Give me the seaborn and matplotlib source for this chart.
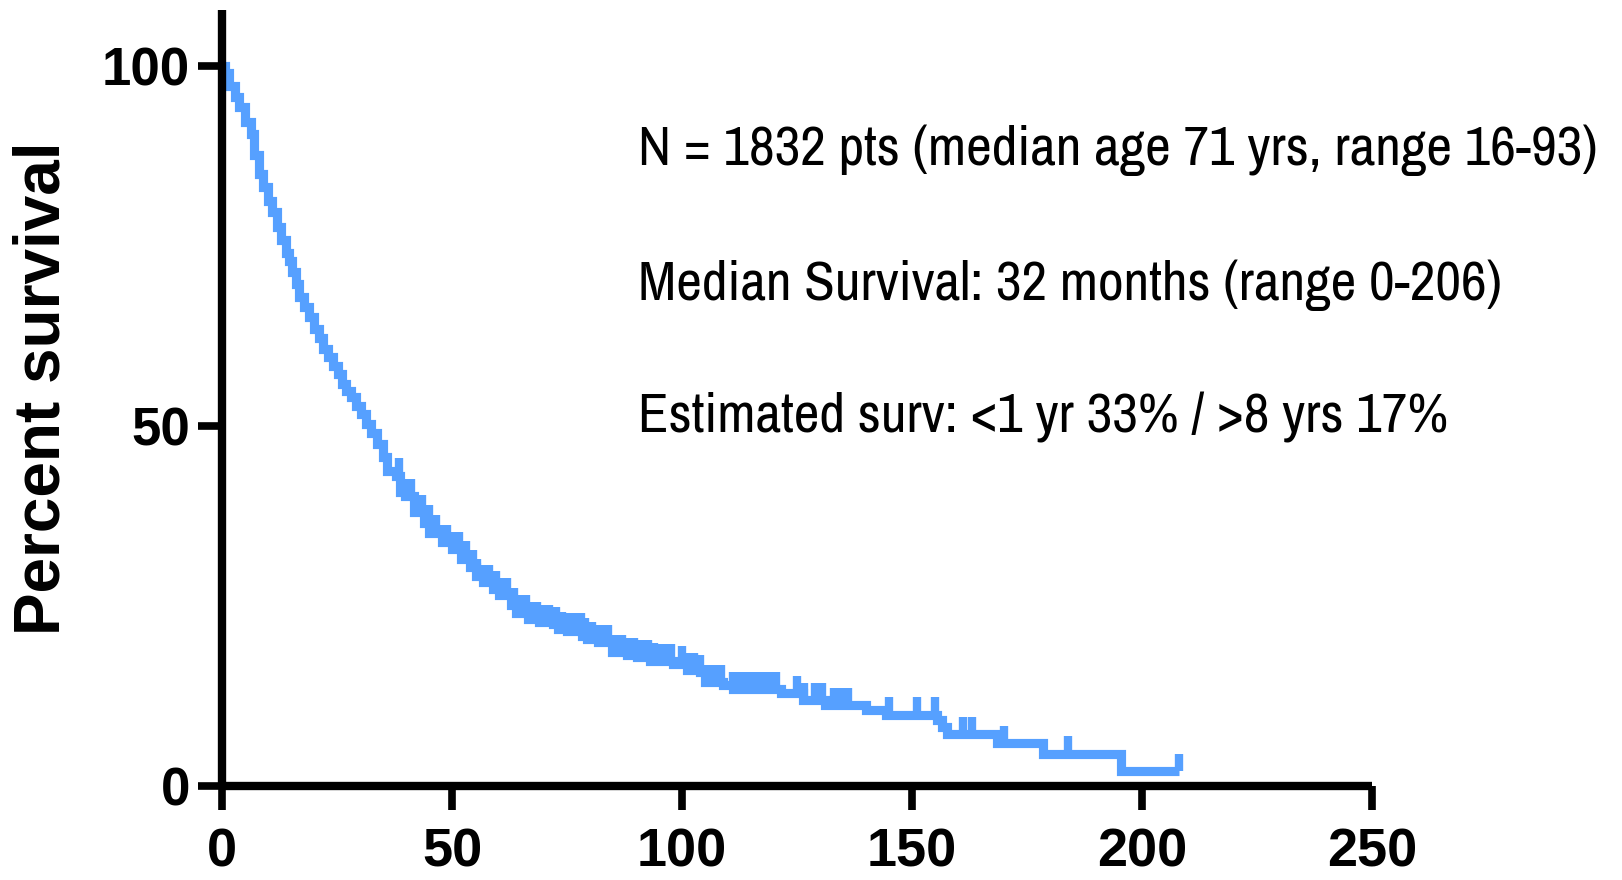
import numpy as np
import pandas as pd
import matplotlib
matplotlib.use("Agg")
import matplotlib.pyplot as plt
from matplotlib import font_manager
import seaborn as sns

# ---- data (Kaplan-Meier step curve, percent survival) ----
step_months = [0, 0.76, 1.63, 2.72, 3.8, 5.1, 6.3, 6.85, 8.0, 8.9, 10.0, 10.9, 11.9,
               12.9, 14.0, 14.6, 15.2, 16.0, 16.8, 17.9, 18.9, 20.0, 21.0, 21.9, 23.0,
               24.1, 25.2, 26.1, 27.0, 28.1, 29.2, 30.3, 31.3, 32.4, 33.7, 35.0, 35.9,
               37.9, 38.8, 39.8, 41.8, 44.0, 45.1, 47.8, 50.0, 52.0, 54.0, 55.3, 56.7,
               58.9, 60.3, 62.9, 64.0, 66.5, 69.0, 72.0, 73.1, 74.9, 78.2, 79.3, 81.8,
               84.7, 88.0, 90.2, 93.0, 94.1, 98.1, 101.0, 103.9, 105.0, 109.0, 111.0,
               121.5, 126.2, 131.1, 140.0, 144.3, 155.4, 156.6, 157.6, 168.5, 178.5,
               195.5, 208.0]
step_survival = [100, 99.1, 97.3, 95.7, 94.3, 92.2, 90.6, 87.6, 85.0, 83.2, 81.3, 79.7,
                 77.6, 75.8, 74.1, 73.0, 71.4, 69.7, 67.9, 66.5, 65.1, 63.5, 62.3, 60.7,
                 59.6, 58.4, 57.2, 55.9, 54.9, 54.0, 52.8, 51.7, 50.3, 49.1, 47.5, 45.7,
                 43.8, 43.1, 40.8, 40.3, 38.0, 36.6, 35.2, 33.9, 32.9, 31.6, 30.4, 29.2,
                 28.3, 27.4, 26.5, 25.1, 24.1, 23.2, 22.75, 22.5, 21.8, 21.6, 20.9, 20.4,
                 20.0, 18.6, 18.2, 17.9, 17.4, 17.3, 17.0, 16.1, 15.8, 14.4, 14.0, 13.5,
                 12.9, 11.9, 11.2, 10.6, 9.9, 9.1, 8.2, 7.25, 6.0, 4.5, 2.1, 2.1]

censor_months = [38.5, 40, 41, 42.5, 43.5, 45, 46.5, 48, 49, 50.5, 51.5, 53, 54.5, 55.5,
                 57, 58, 59.5, 61, 62, 63.5, 65, 66, 67.5, 68.5, 70, 71, 72.5, 74, 75.5,
                 76.5, 78, 79, 80.5, 82, 83, 84, 85.5, 87, 88.5, 89.5, 91, 92.5, 94, 95.5,
                 96.5, 97.5, 100, 101.5, 102.5, 104, 105.5, 107, 108.5, 111, 112.5, 113.5,
                 115, 116.5, 117.5, 119, 120.5, 125, 126.5, 129, 130.5, 133, 134.5, 136,
                 145, 151, 155, 161, 163, 170, 184, 208]

x_ticks = [0, 50, 100, 150, 200, 250]
y_ticks = [0, 50, 100]
y_label = "Percent survival"
notes = ["N = 1832 pts (median age 71 yrs, range 16-93)",
         "Median Survival: 32 months (range 0-206)",
         "Estimated surv: <1 yr 33% / >8 yrs 17%"]

BLUE = "#56A0FF"

sns.set_theme(style="ticks")
plt.rcParams["font.family"] = ["Liberation Sans", "DejaVu Sans"]

fig = plt.figure(figsize=(16.22, 8.80), dpi=100)
ax = fig.add_axes([222 / 1622, 94 / 880, 1150 / 1622, 776 / 880])

df = pd.DataFrame({"months": step_months, "survival": step_survival})
sns.lineplot(data=df, x="months", y="survival", ax=ax, color=BLUE, linewidth=6.6,
             drawstyle="steps-post", estimator=None, sort=False,
             solid_capstyle="butt", solid_joinstyle="miter")

# censor marks sit on the curve and rise upward
st = np.asarray(step_months)
ss = np.asarray(step_survival)
ct = np.asarray(censor_months, dtype=float)
idx = np.searchsorted(st, ct, side="right") - 1
cs = ss[idx]
ax.vlines(ct, cs, cs + 2.4, colors=BLUE, linewidth=6.0, capstyle="butt")

ax.set_xlim(0, 250)
ax.set_ylim(0, 107.8)
ax.set_xticks(x_ticks)
ax.set_yticks(y_ticks)
ax.set_xlabel("")
ax.set_ylabel(y_label, fontsize=46, fontweight="bold", color="black")
ax.yaxis.set_label_coords(-0.1557, 0.513)
ax.yaxis.label.set_va("center")

for side in ["top", "right"]:
    ax.spines[side].set_visible(False)
for side in ["left", "bottom"]:
    ax.spines[side].set_linewidth(6.0)
    ax.spines[side].set_color("black")
    ax.spines[side].set_capstyle("butt")

ax.tick_params(axis="both", direction="out", length=17, width=5.5, color="black")
ax.tick_params(axis="x", pad=13, labelsize=39)
ax.tick_params(axis="y", pad=6, labelsize=38)
for lab in ax.get_xticklabels() + ax.get_yticklabels():
    lab.set_fontweight("bold")
    lab.set_color("black")

# pick a narrow face if available for the annotation block
narrow = None
for f in font_manager.fontManager.ttflist:
    if "Narrow" in f.name or "Condensed" in f.name:
        if narrow is None or "Liberation" in f.name or "Arial" in f.name:
            narrow = f.name
note_family = [narrow, "Liberation Sans"] if narrow else ["Liberation Sans"]

baselines = [165.5, 300.0, 432.4]
texts = []
for s, yb in zip(notes, baselines):
    t = fig.text(638 / 1622, 1 - yb / 880, s, fontsize=40, family=note_family,
                 color="black", va="baseline", ha="left")
    texts.append(t)

# fit first line width (~960 px) like the reference
fig.canvas.draw()
r = fig.canvas.get_renderer()
w = texts[0].get_window_extent(r).width
scale = 960.0 / w
for t in texts:
    t.set_fontsize(40 * scale)

fig.savefig("out.png", dpi=100)
